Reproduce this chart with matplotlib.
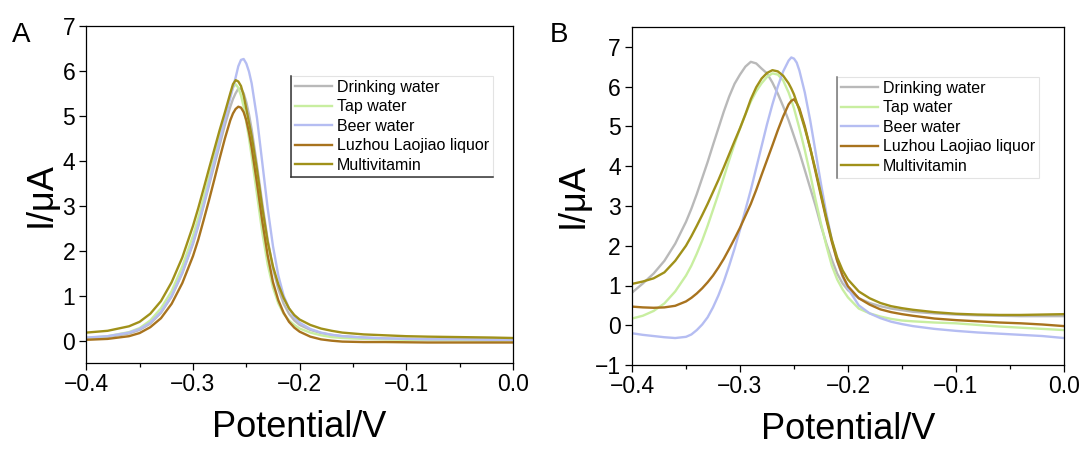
import matplotlib
matplotlib.use("Agg")
import matplotlib.pyplot as plt
from matplotlib.lines import Line2D

plt.rcParams['font.family'] = ['Liberation Sans', 'DejaVu Sans']

labels = ['Drinking water', 'Tap water', 'Beer water', 'Luzhou Laojiao liquor', 'Multivitamin']
colors = ['#b9b9b9', '#c8eea0', '#b5bdf2', '#a8731e', '#a0911a']

# panel A
xA = [-0.40, -0.38, -0.36, -0.35, -0.34, -0.33, -0.32, -0.31, -0.30, -0.295,
      -0.29, -0.285, -0.28, -0.275, -0.27, -0.265, -0.2625, -0.26, -0.2575, -0.255,
      -0.2525, -0.25, -0.2475, -0.245,
      -0.24, -0.235, -0.23, -0.225, -0.22, -0.215, -0.21, -0.205, -0.20, -0.19,
      -0.18, -0.17, -0.16, -0.14, -0.12, -0.10, -0.08, -0.05, -0.02, 0.0]
drinkA = [0.05, 0.08, 0.16, 0.24, 0.38, 0.62, 0.98, 1.5, 2.15, 2.55,
          3.0, 3.45, 3.9, 4.35, 4.8, 5.2, 5.37, 5.5, 5.6, 5.6,
          5.5, 5.3, 5.03, 4.7,
          3.9, 3.05, 2.25, 1.6, 1.15, 0.82, 0.6, 0.45, 0.35, 0.24,
          0.17, 0.13, 0.1, 0.07, 0.05, 0.04, 0.035, 0.03, 0.03, 0.03]
tapA = [0.06, 0.10, 0.19, 0.28, 0.45, 0.72, 1.1, 1.65, 2.33, 2.73,
        3.17, 3.62, 4.08, 4.55, 5.0, 5.45, 5.63, 5.7, 5.62, 5.45,
        5.2, 4.85, 4.5, 4.1,
        3.25, 2.4, 1.7, 1.18, 0.83, 0.6, 0.45, 0.35, 0.27, 0.18,
        0.12, 0.08, 0.06, 0.04, 0.03, 0.02, 0.015, 0.01, 0.0, 0.0]
beerA = [0.07, 0.10, 0.18, 0.26, 0.40, 0.64, 1.0, 1.52, 2.18, 2.58,
         3.02, 3.5, 3.98, 4.45, 4.92, 5.4, 5.63, 5.85, 6.1, 6.24,
         6.26, 6.16, 5.98, 5.72,
         4.95, 3.95, 2.95, 2.1, 1.45, 1.0, 0.72, 0.52, 0.4, 0.26,
         0.18, 0.13, 0.10, 0.07, 0.05, 0.04, 0.03, 0.03, 0.02, 0.02]
luzhouA = [0.02, 0.04, 0.10, 0.17, 0.30, 0.50, 0.82, 1.28, 1.88, 2.25,
           2.68, 3.12, 3.58, 4.05, 4.5, 4.9, 5.05, 5.15, 5.2, 5.18,
           5.08, 4.9, 4.63, 4.3,
           3.5, 2.65, 1.9, 1.3, 0.9, 0.62, 0.42, 0.29, 0.2, 0.09,
           0.03, 0.0, -0.02, -0.03, -0.03, -0.035, -0.04, -0.04, -0.04, -0.04]
multiA = [0.18, 0.22, 0.32, 0.42, 0.60, 0.88, 1.30, 1.85, 2.55, 2.95,
          3.38, 3.82, 4.25, 4.68, 5.08, 5.5, 5.7, 5.79, 5.76, 5.66,
          5.45, 5.15, 4.85, 4.55,
          3.8, 2.95, 2.2, 1.65, 1.25, 0.95, 0.72, 0.57, 0.47, 0.35,
          0.27, 0.22, 0.18, 0.14, 0.12, 0.10, 0.09, 0.08, 0.07, 0.06]

# panel B
xB = [-0.40, -0.39, -0.38, -0.37, -0.36, -0.35, -0.345, -0.34, -0.335, -0.33,
      -0.325, -0.32, -0.315, -0.31, -0.305,
      -0.30, -0.295, -0.29, -0.285, -0.28, -0.275, -0.27, -0.265, -0.26, -0.255,
      -0.2525, -0.25, -0.2475, -0.245, -0.24, -0.235, -0.23, -0.225, -0.22, -0.215,
      -0.21, -0.205,
      -0.20, -0.19, -0.18, -0.17, -0.16, -0.15, -0.14, -0.12, -0.10, -0.08,
      -0.06, -0.04, -0.02, 0.0]
drinkB = [0.82, 1.05, 1.30, 1.62, 2.05, 2.6, 2.93, 3.3, 3.7, 4.1,
          4.53, 4.95, 5.37, 5.75, 6.07,
          6.3, 6.5, 6.62, 6.58, 6.45, 6.33, 6.1, 5.82, 5.5, 5.15,
          4.95, 4.75, 4.55, 4.35, 3.9, 3.45, 3.0, 2.5, 2.05, 1.65,
          1.3, 1.05,
          0.88, 0.68, 0.56, 0.48, 0.42, 0.38, 0.34, 0.3, 0.27, 0.25,
          0.24, 0.23, 0.23, 0.23]
tapB = [0.17, 0.24, 0.36, 0.55, 0.85, 1.25, 1.5, 1.8, 2.13, 2.5,
        2.9, 3.3, 3.72, 4.15, 4.56,
        4.95, 5.3, 5.62, 5.88, 6.08, 6.24, 6.33, 6.3, 6.15, 5.85,
        5.66, 5.45, 5.2, 4.95, 4.4, 3.8, 3.15, 2.55, 2.0, 1.5,
        1.15, 0.9,
        0.7, 0.42, 0.3, 0.22, 0.16, 0.12, 0.1, 0.07, 0.05, 0.01,
        -0.03, -0.06, -0.09, -0.12]
beerB = [-0.2, -0.24, -0.27, -0.3, -0.32, -0.29, -0.23, -0.12, 0.02, 0.2,
         0.45, 0.75, 1.1, 1.5, 1.93,
         2.4, 2.9, 3.4, 3.95, 4.5, 5.05, 5.55, 6.0, 6.38, 6.65,
         6.73, 6.7, 6.6, 6.4, 5.85, 5.15, 4.35, 3.55, 2.8, 2.15,
         1.62, 1.22,
         0.92, 0.5, 0.3, 0.18, 0.09, 0.03, -0.02, -0.09, -0.14, -0.18,
         -0.21, -0.24, -0.27, -0.32]
luzhouB = [0.47, 0.45, 0.44, 0.45, 0.49, 0.6, 0.69, 0.8, 0.93, 1.08,
           1.25, 1.45, 1.67, 1.92, 2.18,
           2.45, 2.75, 3.05, 3.4, 3.78, 4.15, 4.52, 4.9, 5.25, 5.55,
           5.64, 5.68, 5.58, 5.45, 5.0, 4.45, 3.85, 3.25, 2.65, 2.1,
           1.62, 1.25,
           0.98, 0.68, 0.52, 0.4, 0.33, 0.28, 0.24, 0.17, 0.13, 0.1,
           0.07, 0.05, 0.02, -0.02]
multiB = [1.04, 1.1, 1.18, 1.33, 1.62, 2.0, 2.24, 2.5, 2.77, 3.05,
          3.35, 3.65, 3.97, 4.3, 4.63,
          4.95, 5.3, 5.68, 5.98, 6.2, 6.34, 6.41, 6.38, 6.27, 6.08,
          5.95, 5.8, 5.6, 5.4, 4.95, 4.45, 3.9, 3.3, 2.7, 2.15,
          1.7, 1.38,
          1.15, 0.85, 0.68, 0.56, 0.48, 0.43, 0.39, 0.33, 0.29, 0.27,
          0.26, 0.26, 0.27, 0.28]

W, H = 1091, 450
fig = plt.figure(figsize=(W / 100, H / 100), dpi=100, facecolor='w')


def panel(rect, x, ys, ylim, yticks, letter, letter_xy, leg_anchor):
    ax = fig.add_axes(rect)
    for y, c, lab in zip(ys, colors, labels):
        ax.plot(x, y, color=c, lw=1.7, label=lab)
    ax.set_xlim(-0.4, 0.0)
    ax.set_ylim(*ylim)
    ax.set_xticks([-0.4, -0.3, -0.2, -0.1, 0.0])
    ax.set_xticks([-0.35, -0.25, -0.15, -0.05], minor=True)
    ax.set_yticks(yticks)
    ax.tick_params(which='major', direction='out', length=5, width=0.9,
                   labelsize=16.5, pad=2, top=False, right=False)
    ax.tick_params(axis='y', pad=3)
    ax.tick_params(which='minor', direction='out', length=2.8, width=0.9)
    for s in ax.spines.values():
        s.set_linewidth(0.9)
    ax.set_xlabel('Potential/V', fontsize=26, labelpad=10)
    ax.set_ylabel('I/μA', fontsize=26, labelpad=3)
    leg = ax.legend(loc='upper left', bbox_to_anchor=leg_anchor, fontsize=11.5,
                    frameon=True, fancybox=False, handlelength=2.3,
                    handletextpad=0.3, labelspacing=0.28, borderpad=0.25,
                    borderaxespad=0)
    leg.get_frame().set_edgecolor('#dddddd')
    leg.get_frame().set_linewidth(0.8)
    fig.text(letter_xy[0] / W, 1 - letter_xy[1] / H, letter, fontsize=20)
    return ax, leg


axA, legA = panel([86.3 / W, 1 - 363.2 / H, 426.7 / W, 337.5 / H], xA,
                  [drinkA, tapA, beerA, luzhouA, multiA], (-0.5, 7), range(0, 8),
                  'A', (12, 42), (0.48, 0.851))
axB, legB = panel([632 / W, 1 - 365.1 / H, 432 / W, 338.3 / H], xB,
                  [drinkB, tapB, beerB, luzhouB, multiB], (-1, 7.5), range(-1, 8),
                  'B', (550, 42), (0.4745, 0.852))

# darker left (and bottom for A) edges of the legend boxes
fig.canvas.draw()
inv = fig.transFigure.inverted()
for leg, edges, col in [(legA, 'lb', '#333333'), (legB, 'l', '#777777')]:
    (x0, y0), (x1, y1) = inv.transform(leg.get_frame().get_window_extent().get_points())
    if 'l' in edges:
        fig.add_artist(Line2D([x0, x0], [y0, y1], transform=fig.transFigure, color=col, lw=1.1))
    if 'b' in edges:
        fig.add_artist(Line2D([x0, x1], [y0, y0], transform=fig.transFigure, color=col, lw=1.1))

fig.savefig('out.png', dpi=100)
